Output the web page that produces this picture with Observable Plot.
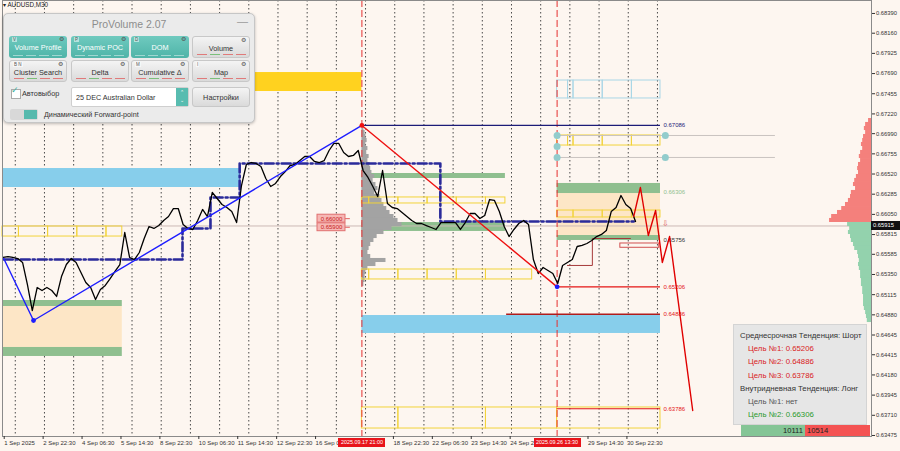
<!DOCTYPE html>
<html><head><meta charset="utf-8">
<script src="https://cdn.jsdelivr.net/npm/d3@7"></script>
<script src="https://cdn.jsdelivr.net/npm/@observablehq/plot@0.6"></script>
<style>
body{margin:0;background:#fdf6f0;font-family:"Liberation Sans",Arial,sans-serif;}
#wrap{position:relative;width:900px;height:451px;overflow:hidden;background:#fdf6f0;}
.ov{position:absolute;box-sizing:border-box;white-space:nowrap;}
#panel{left:3px;top:13px;width:252px;height:110px;background:#ebebeb;border:1px solid #c6c6c6;border-radius:5px;box-shadow:0 1px 3px rgba(0,0,0,.25);}
#ptitle{position:absolute;left:0;top:4px;width:100%;text-align:center;font-size:10.5px;color:#8d8d8d;}
#pmin{position:absolute;right:6px;top:1px;font-size:11px;color:#999;}
.btn{position:absolute;width:58px;height:22px;border-radius:3px;font-size:7.3px;text-align:center;line-height:23px;box-sizing:border-box;}
.teal{background:linear-gradient(#6fcabf,#4fb4a8);color:#fff;}
.gray{background:linear-gradient(#f4f4f4,#dadada);border:1px solid #c8c8c8;color:#333;}
.key{position:absolute;left:3px;top:1px;font-size:4.5px;line-height:5px;color:#555;background:rgba(255,255,255,.5);padding:0 1px;}
.gear{position:absolute;right:3px;top:0px;font-size:5.5px;line-height:6px;color:#555;}
.dash{position:absolute;bottom:2px;height:1px;}
#info{left:733px;top:324px;width:134px;height:101px;background:#e6e6e6;border:1px solid #d4d4d4;font-size:7.8px;}
#info div{position:absolute;white-space:nowrap;}
</style></head><body><div id="wrap"></div>
<script>
// ---------- time axis helpers (M30 bars, trading days only) ----------
const tradingDays = ["09-01","09-02","09-03","09-04","09-05","09-08","09-09","09-10","09-11","09-12",
  "09-15","09-16","09-17","09-18","09-19","09-22","09-23","09-24","09-25","09-26","09-29","09-30",
  "10-01","10-02","10-03","10-06","10-07","10-08","10-09","10-10","10-13","10-14"];
function toBar(s){const [d,t]=s.split(" ");const [h,m]=t.split(":").map(Number);return tradingDays.indexOf(d)*48+h*2+m/30;}

const xDomain = ["09-01 13:30","10-13 08:00"];
const yDomain = [0.63463, 0.68541];

// ---------- AUDUSD M30 closes, every 4 hours from 1 Sep 14:00 ----------
const priceStart = "09-01 14:00";
const priceStepBars = 8;
const closes = [0.65548,0.65559,0.65548,0.65536,0.65490,0.65233,0.64930,0.65198,0.65163,0.65198,
0.65163,0.65094,0.65326,0.65466,0.65536,0.65490,0.65373,0.65257,0.65198,0.65059,
0.65175,0.65222,0.65303,0.65385,0.65466,0.65839,0.65548,0.65524,0.65606,0.65769,
0.65909,0.65886,0.65920,0.65979,0.66025,0.66118,0.66118,0.65932,0.65886,0.65874,
0.65979,0.66107,0.66025,0.66305,0.66235,0.66165,0.66130,0.66083,0.65955,0.66386,
0.66631,0.66654,0.66643,0.66608,0.66468,0.66375,0.66410,0.66491,0.66549,0.66619,
0.66631,0.66677,0.66724,0.66724,0.66666,0.66654,0.66677,0.66794,0.66876,0.66876,
0.66771,0.66724,0.66736,0.66794,0.66561,0.66480,0.66375,0.66258,0.66561,0.66177,
0.66130,0.66118,0.66072,0.66025,0.65979,0.65944,0.65944,0.65920,0.65897,0.65874,
0.65955,0.65955,0.65955,0.65955,0.65874,0.65955,0.66060,0.66060,0.66002,0.66037,
0.66223,0.66212,0.66083,0.65909,0.65792,0.65874,0.65944,0.65979,0.65932,0.65524,
0.65361,0.65431,0.65396,0.65361,0.65245,0.65455,0.65490,0.65524,0.65676,0.65688,
0.65711,0.65746,0.65792,0.65816,0.65862,0.66083,0.66130,0.66270,0.66165,0.66118,0.65967];

// ---------- zigzag & forecast ----------
const zigUpTimes = ["09-01 14:30","09-02 15:00","09-17 21:00"];
const zigUpPrices = [0.65536,0.64814,0.67086];
const zigDownTimes = ["09-17 21:00","09-26 13:30"];
const zigDownPrices = [0.67086,0.65206];
const forecastTimes = ["10-01 04:30","10-01 10:00","10-01 16:30","10-01 22:30","10-02 04:00","10-02 10:00","10-03 05:00"];
const forecastPrices = [0.66026,0.66363,0.65804,0.66095,0.65490,0.65792,0.63766];

// ---------- dynamic POC (step) ----------
const pocTimes = ["09-01 14:30","09-09 17:30","09-10 16:30","09-11 16:30","09-22 13:30","10-01 04:30"];
const pocPrices = [0.65524,0.65886,0.66247,0.66643,0.65967,0.65967];
const pocBTimes = ["09-26 22:00","09-29 18:30","10-01 02:00"];
const pocBPrices = [0.65455,0.65769,0.65769];

// ---------- zones ----------
const zones = [
 {from:"09-01 13:30",to:"09-17 21:00",lo:0.67481,hi:0.67702,kind:"gold"},
 {from:"09-01 13:30",to:"09-11 17:00",lo:0.66363,hi:0.66584,kind:"sky"},
 {from:"09-17 21:00",to:"10-02 02:30",lo:0.64663,hi:0.64872,kind:"sky"},
 {from:"09-01 13:30",to:"09-05 16:00",lo:0.64500,hi:0.64977,kind:"peach"},
 {from:"09-01 13:30",to:"09-05 16:00",lo:0.64977,hi:0.65047,kind:"green"},
 {from:"09-01 13:30",to:"09-05 16:00",lo:0.64395,hi:0.64500,kind:"green"},
 {from:"09-17 21:00",to:"09-24 19:00",lo:0.66468,hi:0.66526,kind:"green"},
 {from:"09-17 21:00",to:"09-24 19:00",lo:0.65851,hi:0.65955,kind:"green"},
 {from:"09-26 13:30",to:"10-02 02:30",lo:0.65804,hi:0.66293,kind:"peach"},
 {from:"09-26 13:30",to:"10-02 02:30",lo:0.66293,hi:0.66410,kind:"green"},
 {from:"09-26 13:30",to:"10-02 02:30",lo:0.65746,hi:0.65804,kind:"green"}
];
// ---------- cluster cells (outlined boxes) ----------
const cellRows = [
 {kind:"yellow",lo:0.65792,hi:0.65909,cuts:["09-01 13:30","09-02 03:00","09-03 03:00","09-04 03:00","09-05 03:00","09-05 16:00"]},
 {kind:"yellow",lo:0.66177,hi:0.66247,cuts:["09-17 21:00","09-18 03:00","09-19 03:00","09-22 03:00","09-23 03:00","09-24 03:00","09-24 19:00"]},
 {kind:"yellow",lo:0.65292,hi:0.65408,cuts:["09-17 21:00","09-18 03:00","09-19 03:00","09-22 03:00","09-23 03:00","09-24 03:00","09-25 17:00"]},
 {kind:"yellow",lo:0.63556,hi:0.63801,cuts:["09-17 21:00","09-19 03:00","09-24 03:00","09-26 13:30","10-02 02:30"]},
 {kind:"yellow",lo:0.66852,hi:0.66969,cuts:["09-26 13:30","09-26 22:30","09-29 03:00","09-30 03:00","10-01 03:00","10-02 02:30"]},
 {kind:"yellow",lo:0.66014,hi:0.66095,cuts:["09-26 13:30","09-29 03:00","09-30 03:00","10-01 03:00","10-02 02:30"]},
 {kind:"lightblue",lo:0.67400,hi:0.67609,cuts:["09-26 13:30","09-26 22:30","09-29 03:00","09-30 03:00","10-01 03:00","10-02 02:30"]}
];
// ---------- target levels ----------
const targetPrices = [0.67086,0.66306,0.65206,0.64886,0.63786];
const targetFrom = ["09-17 21:00","10-01 01:30","09-26 13:30","09-24 20:00","09-26 13:30"];
const targetKinds = ["navy","green","red","maroon","red"];
const levelLabels = ["0.67086","0.66306","0.65756","0.65206","0.64886","0.63786"];
const levelLabelKinds = ["navy","green","dark","red","red","red"];
const levelsEnd = "10-02 02:30";
const guidePrices = [0.66969,0.66713];
const guideDots = [["09-26 13:30",0.66969],["09-26 13:30",0.66841],["09-26 13:30",0.66713],["10-02 06:30",0.66969],["10-02 06:30",0.66713]];
const bidPrice = 0.65915;
const hLineLabels = [0.66000,0.65900];

// ---------- volume profiles ----------
const vpStart = "09-17 21:00";
const vpPrices = [0.67050,0.67004,0.66957,0.66910,0.66864,0.66817,0.66771,0.66724,0.66677,0.66631,
0.66584,0.66538,0.66491,0.66445,0.66398,0.66351,0.66305,0.66258,0.66212,0.66165,0.66118,0.66072,
0.66025,0.65979,0.65932,0.65886,0.65839,0.65792,0.65746,0.65699,0.65653,0.65606,0.65559,0.65513,
0.65466,0.65420,0.65373,0.65326,0.65280,0.65233];
const vpVolumes = [5,8,10,13,10,15,12,18,15,20,22,25,32,28,35,40,32,45,50,55,62,70,80,90,100,75,55,38,30,22,18,15,22,60,35,15,10,8,8,5];
const rpPrices = [0.67143,0.67097,0.67050,0.67004,0.66957,0.66910,0.66864,0.66817,0.66771,0.66724,0.66677,
0.66631,0.66584,0.66538,0.66491,0.66445,0.66398,0.66351,0.66305,0.66258,0.66212,0.66165,0.66118,0.66072,
0.66025,0.65979,0.65932,0.65886,0.65839,0.65792,0.65746,0.65699,0.65653,0.65606,0.65559,0.65513,0.65466,
0.65420,0.65373,0.65326,0.65280,0.65233,0.65187,0.65140,0.65094,0.65047,0.65000,0.64954,0.64907,0.64861,0.64814];
const rpVolumes = [7,14,17,14,19,21,24,21,26,29,26,31,33,31,36,40,43,38,48,50,55,62,71,81,95,100,
57,52,55,50,48,43,40,33,31,29,31,29,26,26,24,24,21,21,19,19,19,17,14,12,10];
const rpSplit = 0.65950; // above: sellers (red), below: buyers (green)

// ---------- axes ----------
const yTicks = [0.68390,0.68160,0.67925,0.67690,0.67455,0.67220,0.66990,0.66755,0.66520,0.66285,0.66050,
0.65815,0.65585,0.65350,0.65115,0.64880,0.64645,0.64415,0.64180,0.63945,0.63710,0.63475];
const xTickTimes = ["09-01 14:30","09-02 22:30","09-04 06:30","09-05 14:30","09-08 22:30","09-10 06:30","09-11 14:30",
"09-12 22:30","09-16 06:30","09-18 22:30","09-22 06:30","09-23 14:30","09-24 22:30","09-29 14:30","09-30 22:30"];
// the two labels partly hidden behind the red time markers are shown as far as they are visible
const xTickLabels = ["1 Sep 2025","2 Sep 22:30","4 Sep 06:30","5 Sep 14:30","8 Sep 22:30","10 Sep 06:30","11 Sep 14:30",
"12 Sep 22:30","16 Sep 0","18 Sep 22:30","22 Sep 06:30","23 Sep 14:30","24 Sep 2","29 Sep 14:30","30 Sep 22:30"];
const markerTimes = ["09-17 21:00","09-26 13:30"];
const markerLabels = ["2025.09.17 21:00","2025.09.26 13:30"];

// ---------- info ----------
const infoLines = [
 ["Среднесрочная Тенденция: Шорт","head"],["Цель №1: 0.65206","red"],["Цель №2: 0.64886","red"],["Цель №3: 0.63786","red"],
 ["Внутридневная Тенденция: Лонг","head"],["Цель №1: нет","gray"],["Цель №2: 0.66306","green"]];
const buyVolume = 10111, sellVolume = 10514;

// ================= build =================
const C = {gold:"#ffd21f",sky:"#87ceeb",peach:"#fde6c6",green:"#8fbf8f",yellow:"#f2d33a",lightblue:"#a9d6e6",
  navy:"#1c1c78",red:"#e41515",maroon:"#b01c1c",dark:"#333333"};
const priceData = closes.map((p,i)=>({b:toBar(priceStart)+i*priceStepBars,p}));
const zz = (ts,ps)=>ts.map((t,i)=>({b:toBar(t),p:ps[i]}));
const cells = cellRows.flatMap(r=>r.cuts.slice(0,-1).map((c,i)=>({x1:toBar(c),x2:toBar(r.cuts[i+1]),lo:r.lo,hi:r.hi,kind:r.kind})));
const xEnd = toBar(xDomain[1]);
const vpBarsPerUnit = 0.66, rpBarsPerUnit = 0.69, binH = 0.000236;
const vp = vpPrices.map((p,i)=>({p,v:vpVolumes[i]}));
const rp = rpPrices.map((p,i)=>({p,v:rpVolumes[i]}));
const targets = targetPrices.map((p,i)=>({p,from:toBar(targetFrom[i]),kind:targetKinds[i]}));
const lbls = levelLabels.map((s,i)=>({p:+s,s,kind:levelLabelKinds[i]}));
const labelMap = new Map(xTickTimes.map((t,i)=>[toBar(t),xTickLabels[i]]));
const daySeps = tradingDays.slice(1,24).map(d=>toBar(d+" 00:00"));

const plot = Plot.plot({
  width:900,height:451,marginLeft:2,marginRight:29,marginTop:0,marginBottom:15,
  x:{domain:xDomain.map(toBar),axis:null},
  y:{domain:yDomain,axis:null},
  color:{type:"identity"},
  style:{background:"transparent",fontFamily:"Liberation Sans, Arial, sans-serif"},
  marks:[
    Plot.ruleX(daySeps,{stroke:"#4a4a4a",strokeDasharray:"1.5,2.5",strokeWidth:1}),
    Plot.rect(zones,{x1:d=>toBar(d.from),x2:d=>toBar(d.to),y1:"lo",y2:"hi",fill:d=>C[d.kind]}),
    Plot.ruleY([bidPrice],{stroke:"#cdb9b5",strokeWidth:1}),
    Plot.rect(vp,{x1:()=>toBar(vpStart),x2:d=>toBar(vpStart)+d.v*vpBarsPerUnit,y1:d=>d.p-binH,y2:d=>d.p+binH,fill:"#a3a3a3"}),
    Plot.rect(rp,{x1:d=>xEnd-d.v*rpBarsPerUnit,x2:xEnd,y1:d=>d.p-binH,y2:d=>d.p+binH,fill:d=>d.p>rpSplit?"#f4807c":"#93d2ad"}),
    Plot.rect(cells,{x1:"x1",x2:"x2",y1:"lo",y2:"hi",fill:"none",stroke:d=>C[d.kind],strokeWidth:1}),
    Plot.ruleX(markerTimes.map(toBar),{stroke:"#e53030",strokeDasharray:"7,3",strokeWidth:1}),
    Plot.ruleY(guidePrices,{x1:toBar("09-26 13:30"),x2:toBar("10-08 01:00"),stroke:"#c9c3c0",strokeWidth:1}),
    Plot.dot(guideDots,{x:d=>toBar(d[0]),y:d=>d[1],r:3.5,fill:"#92cccc",stroke:"none"}),
    Plot.ruleY(targets,{y:"p",x1:"from",x2:toBar(levelsEnd),stroke:d=>C[d.kind],strokeWidth:d=>d.kind==="maroon"?1.6:1.2}),
    Plot.rect([0.65711],{x1:toBar("09-30 17:30"),x2:toBar("10-02 01:30"),y1:d=>d-0.00050,y2:d=>d,fill:"none",stroke:"#d05050",strokeWidth:1}),
    Plot.text(lbls,{x:toBar(levelsEnd),y:"p",text:"s",dx:3,textAnchor:"start",fontSize:6,fill:d=>C[d.kind]}),
    Plot.text(["⇩"],{x:toBar("10-02 06:30"),y:0.65950,fill:"#e06060",fontSize:8}),
    Plot.line(zz(pocTimes,pocPrices),{x:"b",y:"p",curve:"step-after",stroke:"#2a2a9a",strokeWidth:2.6,strokeDasharray:"9,3,2,3"}),
    Plot.line(zz(pocBTimes,pocBPrices),{x:"b",y:"p",curve:"step-after",stroke:"#a63a3a",strokeWidth:1}),
    Plot.line(priceData,{x:"b",y:"p",stroke:"#000",strokeWidth:1.3}),
    Plot.line(zz(zigUpTimes,zigUpPrices),{x:"b",y:"p",stroke:"#1d1dff",strokeWidth:1.4}),
    Plot.line(zz(zigDownTimes,zigDownPrices),{x:"b",y:"p",stroke:"#ee1111",strokeWidth:1.4}),
    Plot.line(zz(forecastTimes,forecastPrices),{x:"b",y:"p",stroke:"#e00000",strokeWidth:1.4}),
    Plot.dot(zz(["09-02 15:00","09-26 13:30"],[0.64814,0.65206]),{x:"b",y:"p",r:2.4,fill:"#1d1dff"}),
    Plot.dot(zz(["09-17 21:00"],[0.67086]),{x:"b",y:"p",r:2.4,fill:"#ee1111"}),
    Plot.ruleY(hLineLabels,{x1:toBar("09-17 07:30"),x2:toBar("09-17 11:30"),stroke:"#e06060"}),
    Plot.rect(hLineLabels,{x1:toBar("09-16 08:30"),x2:toBar("09-17 07:30"),y1:d=>d-0.00046,y2:d=>d+0.00046,fill:"#f6b7b4",stroke:"#e07070"}),
    Plot.text(hLineLabels,{x:toBar("09-16 20:00"),y:d=>d,text:d=>d.toFixed(5),fill:"#c82020",fontSize:6}),
    Plot.frame({stroke:"#8a8a8a"}),
    Plot.axisY({anchor:"right",ticks:yTicks,tickFormat:d=>d.toFixed(5),tickSize:3,tickPadding:1.5,fontSize:5.8,color:"#333"}),
    Plot.axisX({ticks:xTickTimes.map(toBar),tickFormat:b=>labelMap.get(b),textAnchor:"start",tickSize:3,tickPadding:1.5,dx:0.5,fontSize:6,color:"#333"})
  ]
});
const wrap = document.getElementById("wrap");
wrap.appendChild(plot);
const sx = plot.scale("x"), sy = plot.scale("y");
const X = d3.scaleLinear(sx.domain, sx.range), Y = d3.scaleLinear(sy.domain, sy.range);
function ov(html,css){const d=document.createElement("div");d.className="ov";d.style.cssText=css;d.innerHTML=html;wrap.appendChild(d);return d;}

markerTimes.forEach((t,i)=>ov(markerLabels[i],`left:${X(toBar(t))-23}px;top:438px;width:47px;height:9px;background:#e8141a;color:#fff;font-size:5.4px;line-height:9px;text-align:center;overflow:hidden;`));
ov(bidPrice.toFixed(5),`left:871px;top:${Y(bidPrice)-4.5}px;width:29px;height:9px;background:#111;color:#fff;font-size:5.8px;line-height:9px;padding-left:2px;`);
ov("▾ AUDUSD,M30","left:3px;top:1px;font-size:6.3px;color:#222;");

const btns = [
 ["Volume Profile","teal","V",5,22],["Dynamic POC","teal","P",67,22],["DOM","teal","D",127,22],["Volume","gray","",188,22],
 ["Cluster Search","gray","B  N",5,46],["Delta","gray","",67,46],["Cumulative Δ","gray","M",127,46],["Map","gray","I",188,46]];
let ph = `<div id="ptitle">ProVolume 2.07</div><div id="pmin">—</div>`;
btns.forEach(([t,c,k,l,tp])=>{
  const dashCol = c==="teal"?"rgba(255,255,255,.45)":"#e07a7a";
  ph += `<div class="btn ${c}" style="left:${l}px;top:${tp}px;">${t}${k?`<span class="key">${k}</span>`:""}<span class="gear">⚙</span>`+
  `<span class="dash" style="left:4px;width:10px;background:${dashCol}"></span><span class="dash" style="left:17px;width:10px;background:${c==="teal"?dashCol:"#7bbf7b"}"></span>`+
  `<span class="dash" style="left:30px;width:10px;background:${dashCol}"></span><span class="dash" style="left:43px;width:10px;background:${dashCol}"></span></div>`;
});
ph += `<div style="position:absolute;left:7px;top:75px;width:8px;height:8px;background:#fff;border:1px solid #aaa;"></div>`+
 `<div style="position:absolute;left:7px;top:71px;font-size:9px;color:#3bb0a0;">✓</div>`+
 `<div style="position:absolute;left:18px;top:75px;font-size:7.3px;color:#333;">Автовыбор</div>`+
 `<div style="position:absolute;left:67px;top:73px;width:118px;height:20px;background:#fff;border:1px solid #cfcfcf;border-radius:2px;font-size:7.2px;line-height:20px;padding-left:4px;box-sizing:border-box;color:#333;">25 DEC Australian Dollar`+
 `<div style="position:absolute;right:0;top:0;width:12px;height:18px;background:#58bcb0;color:#fff;font-size:5px;line-height:8px;text-align:center;">⌃<br>⌄</div></div>`+
 `<div class="btn gray" style="left:188px;top:73px;height:20px;line-height:19px;">Настройки</div>`+
 `<div style="position:absolute;left:6px;top:95px;width:28px;height:11px;background:#d8d8d8;border-radius:2px;"><div style="position:absolute;right:1px;top:1px;width:13px;height:9px;background:#56b9ad;"></div></div>`+
 `<div style="position:absolute;left:40px;top:96px;font-size:7.2px;color:#333;">Динамический Forward-point</div>`;
const panel = ov(ph,""); panel.id="panel";

const infoCol = {head:"#333",red:"#d92222",gray:"#555",green:"#2c9a2c"};
let ih = "";
infoLines.forEach(([t,k],i)=>{ ih += `<div style="left:${k==="head"?6:14}px;top:${6+i*13.2}px;color:${infoCol[k]}">${t}</div>`; });
const info = ov(ih,""); info.id="info";
ov(`<div style="position:absolute;left:0;top:0;width:64px;height:11px;background:#84c596;text-align:right;padding-right:2px;box-sizing:border-box;">${buyVolume}</div>`+
   `<div style="position:absolute;left:64px;top:0;width:65px;height:11px;background:#f45353;padding-left:2px;box-sizing:border-box;">${sellVolume}</div>`,
   "left:741px;top:425px;width:129px;height:11px;font-size:7.6px;line-height:11px;color:#222;");
</script></body></html>
